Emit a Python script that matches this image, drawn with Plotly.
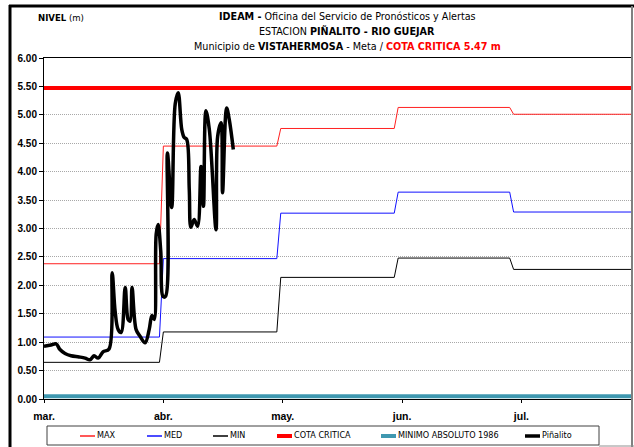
import plotly.graph_objects as go

# ---- data -------------------------------------------------------------
# monthly reference levels (step series): break points and values
step_dates = ["2012-03-01", "2012-03-30 12:00", "2012-03-31 12:00",
              "2012-04-29 12:00", "2012-04-30 12:00", "2012-05-29 12:00",
              "2012-05-30 12:00", "2012-06-28", "2012-06-29", "2012-07-29"]
max_monthly = [2.38, 4.45, 4.76, 5.13, 5.01]
med_monthly = [1.09, 2.47, 3.27, 3.64, 3.29]
min_monthly = [0.645, 1.18, 2.14, 2.48, 2.28]

cota_critica = 5.47
minimo_absoluto_1986 = 0.05
full_range = ["2012-03-01", "2012-07-29"]

# observed stage at Piñalito
pinalito_dates = [
    "2012-03-01 00:00", "2012-03-02 19:00", "2012-03-04 02:00", "2012-03-05 02:00",
    "2012-03-06 09:00", "2012-03-07 22:00", "2012-03-09 23:00", "2012-03-11 12:00",
    "2012-03-12 18:00", "2012-03-13 19:00", "2012-03-14 20:00", "2012-03-16 02:00",
    "2012-03-17 15:00", "2012-03-18 10:00", "2012-03-19 04:00", "2012-03-19 23:00",
    "2012-03-20 17:00", "2012-03-21 18:00", "2012-03-22 12:00", "2012-03-23 00:00",
    "2012-03-23 12:00", "2012-03-24 13:00", "2012-03-25 14:00", "2012-03-26 20:00",
    "2012-03-27 21:00", "2012-03-28 14:00", "2012-03-29 04:00", "2012-03-29 16:00",
    "2012-03-30 04:00", "2012-03-30 20:00", "2012-03-31 11:00", "2012-04-01 02:00",
    "2012-04-01 13:00", "2012-04-02 15:00", "2012-04-03 13:00", "2012-04-04 07:00",
    "2012-04-05 05:00", "2012-04-05 20:00", "2012-04-06 11:00", "2012-04-07 03:00",
    "2012-04-07 13:00", "2012-04-08 09:00", "2012-04-09 06:00", "2012-04-10 03:00",
    "2012-04-10 18:00", "2012-04-11 09:00", "2012-04-12 06:00", "2012-04-13 23:00",
    "2012-04-14 09:00", "2012-04-15 06:00", "2012-04-15 15:00", "2012-04-16 16:00",
    "2012-04-17 08:00", "2012-04-18 09:00",
]
pinalito_levels = [
    0.93, 0.95, 0.97, 0.87,
    0.80, 0.76, 0.74, 0.72,
    0.69, 0.76, 0.72, 0.83,
    0.88, 2.22, 1.55, 1.22,
    1.17, 1.96, 1.40, 1.37,
    1.96, 1.22, 1.10, 0.99,
    1.22, 1.47, 1.40, 2.90,
    3.07, 2.60, 1.80, 1.81,
    4.33, 3.37, 5.20, 5.39,
    4.74, 4.60, 4.57, 3.68,
    3.02, 3.16, 3.04, 4.09,
    3.39, 5.07, 4.74, 2.98,
    4.62, 4.86, 3.63, 5.12,
    4.92, 4.39,
]

y_ticks = [0.0, 0.5, 1.0, 1.5, 2.0, 2.5, 3.0, 3.5, 4.0, 4.5, 5.0, 5.5, 6.0]
month_ticks = ["2012-03-01", "2012-03-31 12:00", "2012-05-01", "2012-05-31 12:00", "2012-07-01"]
month_labels = ["mar.", "abr.", "may.", "jun.", "jul."]


def steps_y(values):
    ys = []
    for v in values:
        ys += [v, v]
    return ys


# ---- layout geometry ---------------------------------------------------
W, H = 634, 447
ML, MR, MT, MB = 44, 3, 58, 48
PW, PH = W - ML - MR, H - MT - MB

def px_x(p):
    return (p - ML) / PW

def px_y(p):
    return (H - MB - p) / PH

NARROW = "Liberation Sans Narrow, Arial Narrow, DejaVu Sans Condensed, sans-serif"
SANS = "Liberation Sans, Arial, sans-serif"

series = [
    dict(x=step_dates, y=steps_y(max_monthly), name="MAX", color="#ff2020", width=1),
    dict(x=step_dates, y=steps_y(med_monthly), name="MED", color="#1010ff", width=1),
    dict(x=step_dates, y=steps_y(min_monthly), name="MIN", color="#000000", width=1),
    dict(x=full_range, y=[cota_critica] * 2, name="COTA CRITICA", color="#ff0000", width=4),
    dict(x=full_range, y=[minimo_absoluto_1986] * 2, name="MINIMO ABSOLUTO 1986",
         color="#3f98b0", width=4),
    dict(x=pinalito_dates, y=pinalito_levels, name="Piñalito", color="#000000", width=3.5,
         spline=True),
]

fig = go.Figure()
for s in series:
    line = dict(color=s["color"], width=s["width"])
    if s.get("spline"):
        line.update(shape="spline", smoothing=1.0)
    fig.add_trace(go.Scatter(x=s["x"], y=s["y"], mode="lines", name=s["name"], line=line,
                             showlegend=False))

title_lines = [
    "<b>IDEAM -</b> Oficina del Servicio de Pronósticos y Alertas",
    "ESTACION <b>PIÑALITO - RIO GUEJAR</b>",
    "Municipio de <b>VISTAHERMOSA</b> - Meta / <span style='color:#ff0000'><b>COTA CRITICA 5.47 m</b></span>",
]
annotations = []
for i, txt in enumerate(title_lines):
    annotations.append(dict(text=txt, xref="paper", yref="paper", x=px_x(347), y=px_y(16 + 15 * i),
                            xanchor="center", yanchor="middle", showarrow=False,
                            font=dict(family=NARROW, size=10.7, color="#000000")))
annotations.append(dict(text="<b>NIVEL</b> (m)", xref="paper", yref="paper", x=px_x(36), y=px_y(17),
                        xanchor="left", yanchor="middle", showarrow=False,
                        font=dict(family=NARROW, size=9.5, color="#000000")))

shapes = [
    # outer chart frame
    dict(type="line", xref="paper", yref="paper", x0=px_x(10), x1=px_x(10), y0=px_y(5), y1=px_y(447),
         line=dict(color="#000000", width=3)),
    dict(type="line", xref="paper", yref="paper", x0=px_x(9), x1=px_x(634), y0=px_y(6), y1=px_y(6),
         line=dict(color="#000000", width=3)),
    dict(type="line", xref="paper", yref="paper", x0=px_x(632), x1=px_x(632), y0=px_y(6), y1=px_y(447),
         line=dict(color="#808080", width=2)),
    dict(type="line", xref="paper", yref="paper", x0=px_x(599), x1=px_x(634), y0=px_y(446), y1=px_y(446),
         line=dict(color="#909090", width=1)),
    # key box
    dict(type="rect", xref="paper", yref="paper", x0=px_x(47), x1=px_x(599), y0=px_y(426), y1=px_y(445),
         line=dict(color="#404040", width=1), fillcolor="#ffffff"),
]

# key entries: sample line followed by the series name
key_left = [80, 147, 213, 277, 381, 525]
key_mid = 436
for left, s in zip(key_left, series):
    shapes.append(dict(type="line", xref="paper", yref="paper", x0=px_x(left), x1=px_x(left + 15),
                       y0=px_y(key_mid), y1=px_y(key_mid),
                       line=dict(color=s["color"], width=max(1.5, min(s["width"], 4)))))
    annotations.append(dict(text=s["name"], xref="paper", yref="paper", x=px_x(left + 15),
                            y=px_y(key_mid - 0.5), xanchor="left", yanchor="middle", showarrow=False,
                            font=dict(family=NARROW, size=9, color="#000000")))

fig.update_layout(
    width=W, height=H,
    margin=dict(l=ML, r=MR, t=MT, b=MB, pad=0),
    paper_bgcolor="#ffffff", plot_bgcolor="#ffffff",
    showlegend=False,
    annotations=annotations,
    shapes=shapes,
    xaxis=dict(type="date", range=full_range, tickvals=month_ticks,
               ticktext=["<b>%s</b>" % t for t in month_labels],
               showgrid=False, zeroline=False, showline=True, linecolor="#000000", linewidth=1,
               mirror=True, ticks="outside", ticklen=3, tickcolor="#000000",
               ticklabelstandoff=4,
               tickfont=dict(family=SANS, size=10.5, color="#000000")),
    yaxis=dict(range=[0, 6], tickvals=y_ticks,
               ticktext=["<b>%.2f</b>" % v for v in y_ticks],
               showgrid=True, gridcolor="#a8a8a8", griddash="1px,1px", gridwidth=1,
               zeroline=False, showline=True, linecolor="#000000", linewidth=1,
               ticks="outside", ticklen=4, tickcolor="#000000",
               tickfont=dict(family=SANS, size=10, color="#000000")),
)

fig.write_html("out.html")
